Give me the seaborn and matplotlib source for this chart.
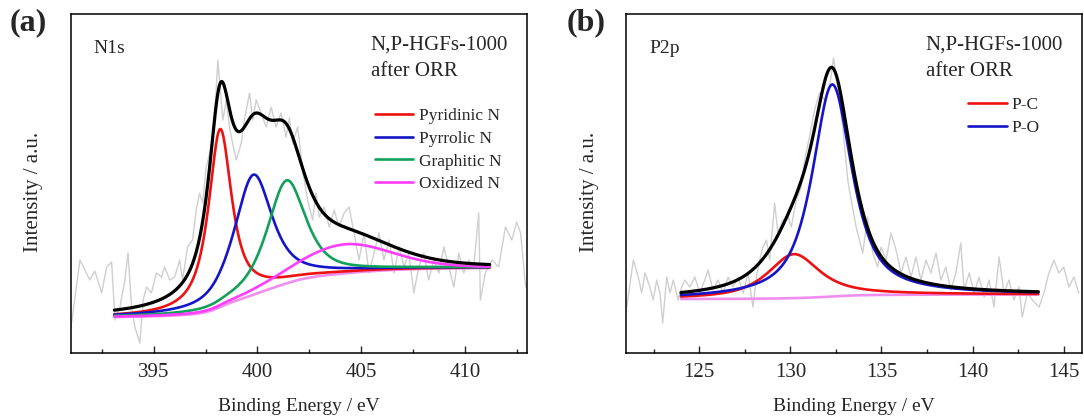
import numpy as np
import pandas as pd
import matplotlib
matplotlib.use("Agg")
import matplotlib.pyplot as plt
import seaborn as sns

# ---- N1s raw spectrum (arbitrary units) ----
n1s_energy = [391.01, 391.44, 391.92, 392.16, 392.49, 392.73, 392.97, 393.13, 393.37, 393.61,
              393.76, 393.93, 394.09, 394.33, 394.49, 394.65, 394.89, 395.13, 395.37, 395.53,
              395.77, 396.01, 396.25, 396.39, 396.63, 396.87, 397.05, 397.21, 397.36, 397.53,
              397.77, 397.93, 398.09, 398.33, 398.50, 398.65, 398.80, 398.98, 399.22, 399.37,
              399.62, 399.77, 399.94, 400.18, 400.42, 400.66, 400.90, 401.14, 401.38, 401.54,
              401.70, 401.94, 402.18, 402.42, 402.66, 402.82, 402.98, 403.22, 403.46, 403.70,
              403.94, 404.18, 404.42, 404.66, 404.90, 405.14, 405.38, 405.62, 405.86, 406.10,
              406.35, 406.59, 406.83, 407.07, 407.30, 407.54, 407.78, 408.02, 408.26, 408.50,
              408.75, 408.99, 409.23, 409.47, 409.71, 409.95, 410.19, 410.43, 410.67, 410.75,
              410.99, 411.31, 411.63, 411.96, 412.27, 412.50, 412.69, 412.93]
n1s_counts = [26, 93, 73, 82, 60, 86, 91, 33, 46, 73,
              100, 46, 26, 10, 53, 66, 60, 80, 76, 86,
              73, 76, 93, 73, 106, 113, 143, 160, 150, 186,
              206, 233, 293, 233, 253, 226, 210, 193, 210, 233,
              260, 233, 253, 240, 226, 246, 226, 240, 216, 235,
              210, 226, 183, 153, 133, 160, 136, 146, 126, 143,
              126, 140, 146, 120, 93, 120, 80, 100, 120, 93,
              113, 80, 106, 86, 100, 60, 86, 100, 73, 93,
              80, 106, 86, 66, 100, 80, 93, 86, 140, 53,
              80, 93, 86, 126, 113, 131, 120, 66]

# N1s fitted components
n1s_labels = ["Pyridinic N", "Pyrrolic N", "Graphitic N", "Oxidized N"]
n1s_center = [398.2, 399.8, 401.4, 404.2]
n1s_height = [178, 120, 103, 29]
n1s_fwhm = [1.35, 2.2, 2.2, 5.4]
n1s_lfrac = [0.9, 0.75, 0.7, 0.3]
n1s_bg_ends = [36, 85]
n1s_fit_range = [393.1, 411.2]

# ---- P2p raw spectrum ----
p2p_energy = [121.03, 121.39, 121.66, 121.85, 122.03, 122.30, 122.48, 122.67, 122.85, 123.00,
              123.22, 123.40, 123.58, 123.85, 124.04, 124.22, 124.49, 124.76, 125.04, 125.31,
              125.49, 125.76, 126.04, 126.31, 126.59, 126.86, 127.13, 127.41, 127.68, 127.95,
              128.14, 128.32, 128.50, 128.69, 128.87, 129.14, 129.32, 129.59, 129.87, 130.05,
              130.33, 130.60, 130.78, 131.05, 131.33, 131.60, 131.88, 132.15, 132.37, 132.60,
              132.88, 133.15, 133.24, 133.61, 133.97, 134.24, 134.52, 134.79, 134.98, 135.25,
              135.52, 135.80, 136.07, 136.34, 136.62, 136.89, 137.16, 137.44, 137.71, 137.99,
              138.26, 138.53, 138.81, 139.08, 139.35, 139.53, 139.81, 140.08, 140.35, 140.63,
              140.90, 141.17, 141.45, 141.72, 141.99, 142.27, 142.54, 142.72, 143.00, 143.27,
              143.64, 143.91, 144.18, 144.46, 144.73, 145.00, 145.28, 145.55, 145.82]
p2p_counts = [46, 93, 76, 60, 80, 66, 53, 73, 60, 30,
              76, 60, 73, 53, 66, 73, 66, 76, 60, 73,
              83, 63, 73, 60, 76, 66, 76, 60, 80, 46,
              76, 93, 106, 113, 93, 150, 120, 133, 136, 126,
              153, 166, 193, 216, 243, 260, 253, 266, 295, 266,
              226, 173, 163, 126, 100, 136, 100, 86, 106, 93,
              120, 103, 80, 96, 76, 96, 73, 93, 80, 100,
              73, 86, 63, 80, 110, 63, 80, 60, 76, 56,
              73, 46, 96, 60, 73, 53, 66, 36, 60, 53,
              46, 60, 80, 93, 80, 86, 66, 76, 60]

p2p_labels = ["P-C", "P-O"]
p2p_center = [130.2, 132.3]
p2p_height = [44, 212]
p2p_fwhm = [3.4, 2.6]
p2p_lfrac = [0.8, 0.8]
p2p_bg_ends = [54, 58.5]
p2p_fit_range = [124.0, 143.6]

comp_colors = ["#ee1111", "#1515c8", "#12a05a", "#ff3dff"]
bg_color = "#f08ef0"
raw_color = "#cfcfcf"


def pseudo_voigt(e, c, h, w, eta):
    lor = 1.0 / (1.0 + ((e - c) / (w / 2.0)) ** 2)
    gau = np.exp(-4 * np.log(2) * ((e - c) / w) ** 2)
    return h * (eta * lor + (1 - eta) * gau)


def build_fit(rng, centers, heights, fwhms, lfracs, bg_ends):
    e = np.linspace(rng[0], rng[1], 600)
    peaks = [pseudo_voigt(e, c, h, w, l) for c, h, w, l in zip(centers, heights, fwhms, lfracs)]
    total = np.sum(peaks, axis=0)
    # shirley-type step background
    frac = np.cumsum(total) / np.sum(total)
    bg = bg_ends[0] + (bg_ends[1] - bg_ends[0]) * frac
    return e, bg, [bg + p for p in peaks], bg + total


sns.set_style("ticks")
plt.rcParams["font.family"] = ["Liberation Serif", "DejaVu Serif"]

fig = plt.figure(figsize=(10.84, 4.16), dpi=100)
ax_a = fig.add_axes([0.0653, 0.1514, 0.4209, 0.8149])
ax_b = fig.add_axes([0.5777, 0.1514, 0.4205, 0.8149])

panels = [
    (ax_a, n1s_energy, n1s_counts, n1s_labels, n1s_center, n1s_height, n1s_fwhm, n1s_lfrac,
     n1s_bg_ends, n1s_fit_range, (391, 413), [395, 400, 405, 410], 392.5, "N1s", (0.667, 0.722)),
    (ax_b, p2p_energy, p2p_counts, p2p_labels, p2p_center, p2p_height, p2p_fwhm, p2p_lfrac,
     p2p_bg_ends, p2p_fit_range, (121, 146), [125, 130, 135, 140, 145], 122.5, "P2p", (0.7506, 0.755)),
]

for (ax, en, cts, labels, cen, hgt, fw, lf, bge, rng, xlim, xt, minor0, core, leg_xy) in panels:
    raw = pd.DataFrame({"energy": en, "counts": cts})
    sns.lineplot(data=raw, x="energy", y="counts", ax=ax, color=raw_color, lw=1.0,
                 estimator=None, sort=False)

    e, bg, comps, env = build_fit(rng, cen, hgt, fw, lf, bge)
    sns.lineplot(x=e, y=bg, ax=ax, color=bg_color, lw=1.9, estimator=None, sort=False)
    handles = []
    for i, comp in enumerate(comps):
        sns.lineplot(x=e, y=comp, ax=ax, color=comp_colors[i], lw=1.9,
                     estimator=None, sort=False)
        handles.append(ax.lines[-1])
    sns.lineplot(x=e, y=env, ax=ax, color="black", lw=2.3, estimator=None, sort=False)

    ax.set_xlim(*xlim)
    ax.set_ylim(0, 339)
    ax.set_xticks(xt)
    ax.set_xticks(np.arange(minor0, xlim[1], 2.5), minor=True)
    ax.set_yticks([])
    ax.tick_params(axis="x", which="major", direction="in", length=5, width=1.0,
                   labelsize=15, pad=7, top=False)
    ax.tick_params(axis="x", which="minor", direction="in", length=3, width=1.0, top=False)
    for sp in ax.spines.values():
        sp.set_linewidth(1.1)
        sp.set_color("black")

    ax.set_xlabel("Binding Energy / eV", fontsize=14, labelpad=12)
    ax.set_ylabel("Intensity / a.u.", fontsize=15)
    ax.yaxis.set_label_coords(-0.06, 0.476)

    ax.text(0.05, 0.898, core, transform=ax.transAxes, fontsize=14, ha="left", va="center")
    ax.text(0.657, 0.908, "N,P-HGFs-1000", transform=ax.transAxes, fontsize=15,
            ha="left", va="center")
    ax.text(0.657, 0.829, "after ORR", transform=ax.transAxes, fontsize=15,
            ha="left", va="center")

    ax.legend(handles, labels, loc="upper left", bbox_to_anchor=leg_xy, frameon=False,
              fontsize=12.5, handlelength=2.2, handletextpad=0.3, labelspacing=0.37,
              borderpad=0, borderaxespad=0)

fig.text(0.009, 0.945, "(a)", fontsize=23, fontweight="bold", ha="left", va="center")
fig.text(0.5228, 0.945, "(b)", fontsize=23, fontweight="bold", ha="left", va="center")

fig.savefig("out.png", dpi=100)
